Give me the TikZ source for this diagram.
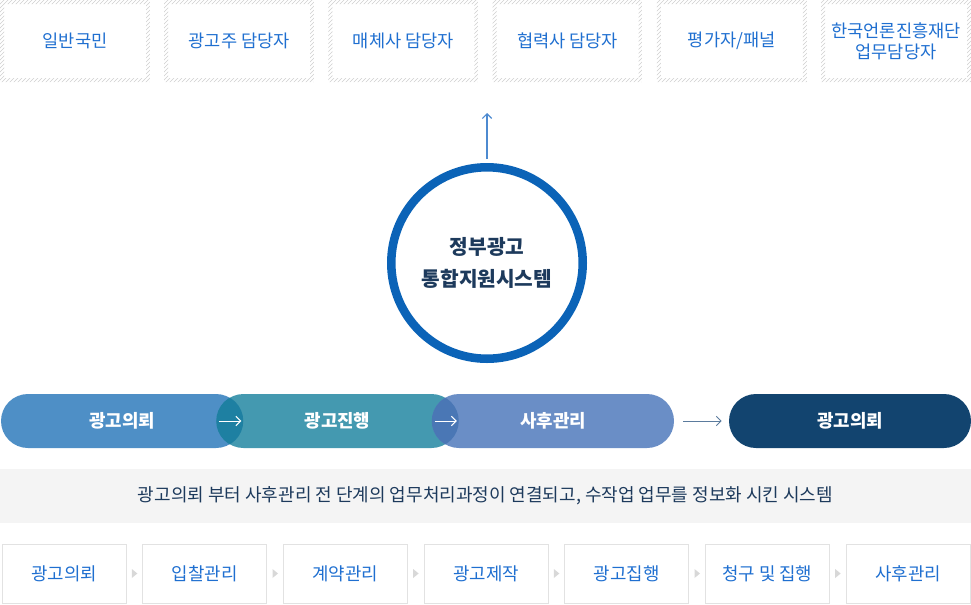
\documentclass[tikz,border=0pt]{standalone}
\usepackage{fontspec}
\setmainfont{Noto Sans CJK KR}
\usetikzlibrary{arrows.meta,patterns,calc}
\definecolor{hblue}{HTML}{1F6FD0}
\definecolor{hgray}{HTML}{CFCFCF}
\definecolor{navy}{HTML}{1D3A5C}
\definecolor{ring}{HTML}{0B63B7}
\definecolor{upblue}{HTML}{4D8AD0}
\definecolor{pone}{HTML}{4E8FC6}
\definecolor{ptwo}{HTML}{4499B0}
\definecolor{pthree}{HTML}{6A8EC6}
\definecolor{pfour}{HTML}{12446F}
\definecolor{lensa}{HTML}{1E80A2}
\definecolor{lensb}{HTML}{4A77B5}
\definecolor{midarr}{HTML}{5B7B9D}
\definecolor{band}{HTML}{F4F4F4}
\definecolor{boxline}{HTML}{E2E2E2}
\definecolor{tri}{HTML}{D8D8D8}

\begin{document}
\begin{tikzpicture}[x=0.75pt,y=-0.75pt,
   u/.style={minimum width=112.5pt,minimum height=61.5pt,inner sep=0pt,align=center,
     font=\fontsize{13.2}{15.5}\selectfont,text=hblue,
     path picture={\fill[pattern=north east lines,pattern color=hgray,even odd rule]
       (path picture bounding box.south west) rectangle (path picture bounding box.north east)
       ([shift={(3pt,3pt)}]path picture bounding box.south west) rectangle ([shift={(-3pt,-3pt)}]path picture bounding box.north east);}},
   p/.style={rounded corners=20.25pt,minimum width=181.5pt,minimum height=40.5pt,inner sep=0pt,
     text=white,font=\fontsize{13.4}{15}\selectfont\bfseries},
   s/.style={draw=boxline,line width=0.75pt,minimum width=93pt,minimum height=44.25pt,inner sep=0pt,
     text=hblue,font=\fontsize{13.4}{15}\selectfont},
   a/.style={-{Straight Barb[length=3.5pt,width=7pt]},line width=0.9pt},
   w/.style={a,white,line width=0.75pt,shorten <=2.25pt,shorten >=1.5pt}]
  \useasboundingbox (0,0) rectangle (971,604);
  \node[u] (u1) at (75,41) {일반국민};
  \node[u] (u2) at (239.2,41) {광고주 담당자};
  \node[u] (u3) at (403.4,41) {매체사 담당자};
  \node[u] (u4) at (567.6,41) {협력사 담당자};
  \node[u] (u5) at (731.8,41) {평가자/패널};
  \node[u] (u6) at (896,41) {한국언론진흥재단\\업무담당자};
  \coordinate (top) at (487,113);
  \node[circle,draw=ring,line width=6.4pt,minimum size=143.6pt,inner sep=0pt,align=center,
    text=navy,font=\fontsize{15.2}{23.5}\selectfont\bfseries] (c) at (487,263) {정부광고\\통합지원시스템};
  \draw[a,upblue] (c.north) ++(0,-4) -- (top);
  \node[p,fill=pone] (p1) at (122,421) {광고의뢰};
  \node[p,fill=ptwo] (p2) at (337.5,421) {광고진행};
  \node[p,fill=pthree] (p3) at (553,421) {사후관리};
  \node[p,fill=pfour] (p4) at (850,421) {광고의뢰};
  \begin{scope}
    \clip ($(p1.east)+(-27,0)$) circle (27);
    \fill[lensa] ($(p2.west)+(27,0)$) circle (27);
  \end{scope}
  \begin{scope}
    \clip ($(p2.east)+(-27,0)$) circle (27);
    \fill[lensb] ($(p3.west)+(27,0)$) circle (27);
  \end{scope}
  \draw[w] (p2.west) -- (p1.east);
  \draw[w] (p3.west) -- (p2.east);
  \draw[a,midarr,line width=0.75pt,shorten <=6.75pt,shorten >=5.25pt] (p3.east) -- (p4.west);
  \node[fill=band,minimum width=728.25pt,minimum height=40.5pt,inner sep=0pt,text=navy,
    font=\fontsize{13.5}{15}\selectfont] (d) at (485.5,496) {광고의뢰 부터 사후관리 전 단계의 업무처리과정이 연결되고, 수작업 업무를 정보화 시킨 시스템};
  \node[s] (s1) at (64,573.5) {광고의뢰};
  \node[s] (s2) at (204.7,573.5) {입찰관리};
  \node[s] (s3) at (345.3,573.5) {계약관리};
  \node[s] (s4) at (486,573.5) {광고제작};
  \node[s] (s5) at (626.7,573.5) {광고집행};
  \node[s] (s6) at (767.3,573.5) {청구 및 집행};
  \node[s] (s7) at (908,573.5) {사후관리};
  \foreach \i/\j in {s1/s2,s2/s3,s3/s4,s4/s5,s5/s6,s6/s7}
    \fill[tri] ($(\i.east)!0.5!(\j.west)+(-2.5,-4.5)$) -- ++(5.5,4.5) -- ++(-5.5,4.5) -- cycle;
\end{tikzpicture}
\end{document}
